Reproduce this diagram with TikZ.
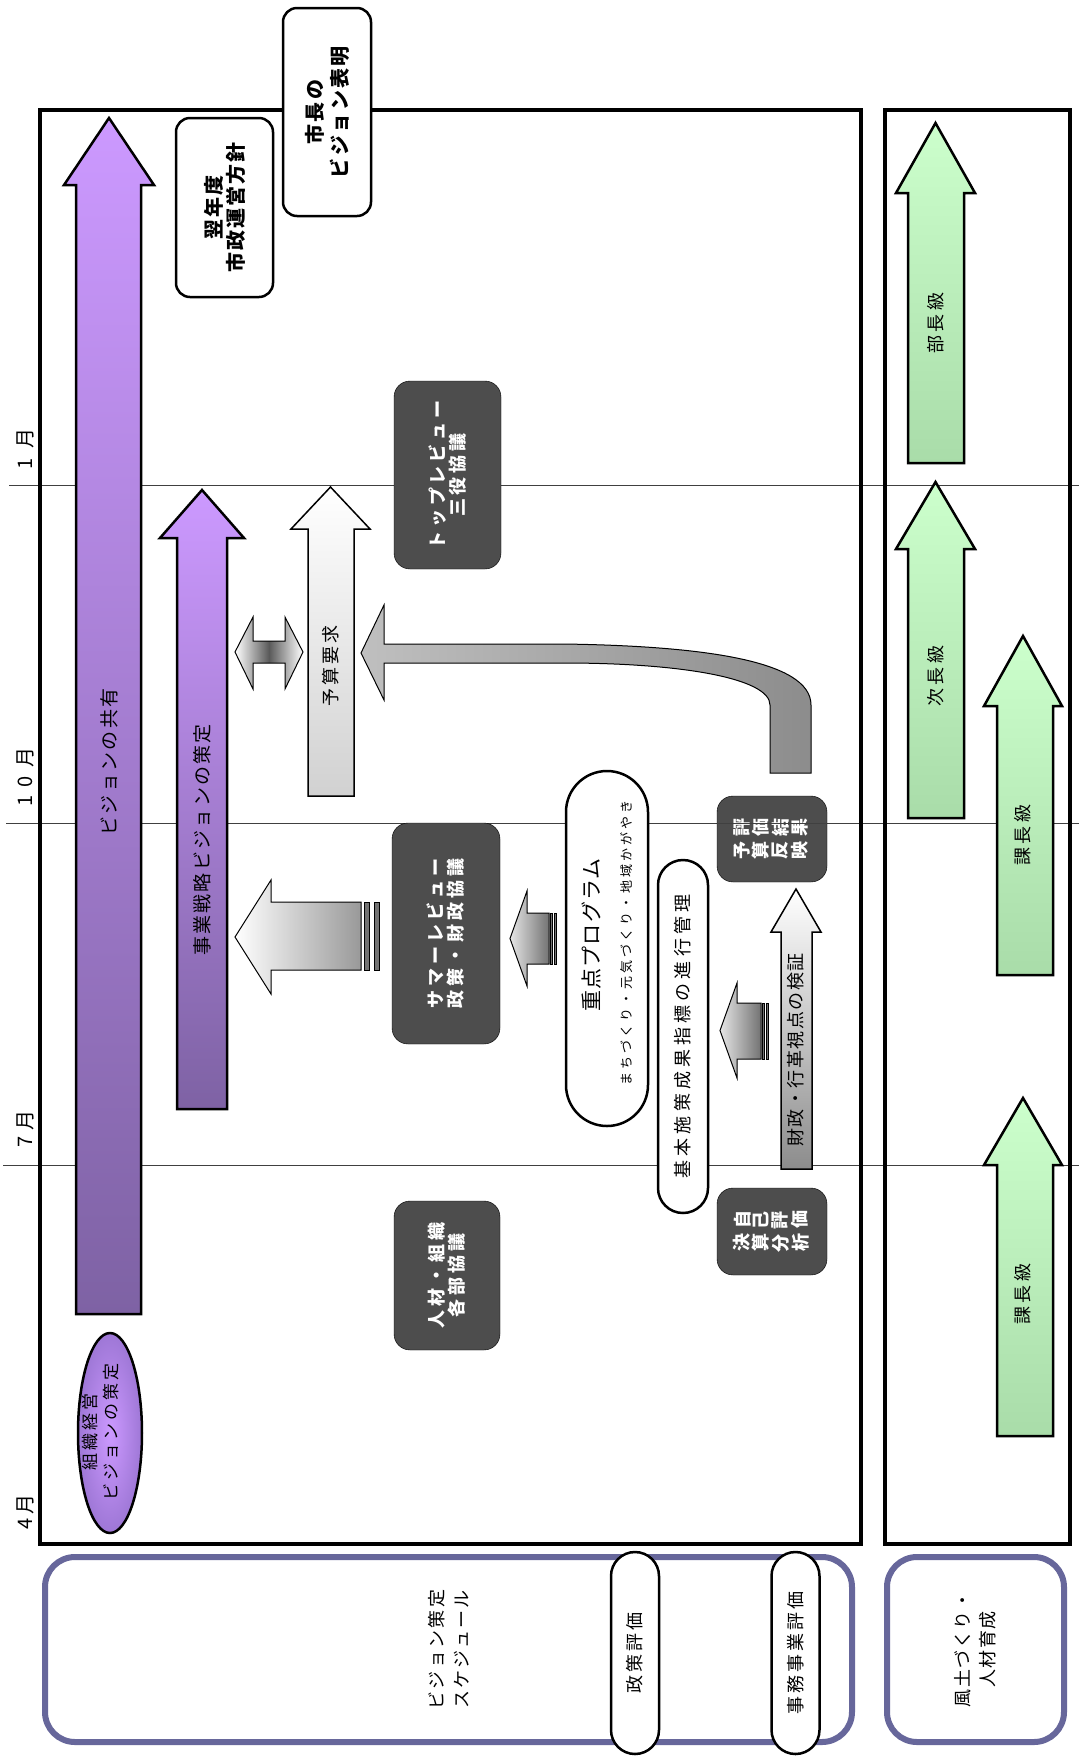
\documentclass[tikz,border=0pt]{standalone}
\usepackage{fontspec}
\setmainfont{Noto Sans CJK JP}
\usepackage{graphicx}
\usetikzlibrary{shapes.geometric, shapes.misc, positioning}

\definecolor{purpleL}{HTML}{CC99FF}
\definecolor{purpleD}{HTML}{7E62A4}
\definecolor{purpleM}{HTML}{9E77D6}
\definecolor{greenL}{HTML}{CCFFCC}
\definecolor{greenD}{HTML}{A9DCA9}
\definecolor{boxdark}{HTML}{4D4D4D}
\definecolor{frameblue}{HTML}{67679B}

\newcommand\jfont[2]{\fontsize{#1}{#2}\selectfont}
\newcommand\rch[1]{\rotatebox[origin=c]{90}{#1}\kern2.5pt}
% block arrow up: style, shaft x1, x2, head x1, x2, tip y, head base y, tail y
\newcommand\blkup[8]{\path[#1] (#2,#8) -- (#2,#7) -- (#4,#7) -- ({(#4+#5)/2},#6) -- (#5,#7) -- (#3,#7) -- (#3,#8) -- cycle;}
% block arrow left: style, tip x, head base x, tail x, head y1, y2, shaft y1, y2
\newcommand\blkleft[8]{\path[#1] (#2,{(#5+#6)/2}) -- (#3,#5) -- (#3,#7) -- (#4,#7) -- (#4,#8) -- (#3,#8) -- (#3,#6) -- cycle;}

\begin{document}
\begin{tikzpicture}[x=1pt, y=-1pt,
    mainframe/.style={draw=black, line width=4.5pt},
    monthline/.style={draw=black!75, line width=1pt},
    jtext/.style={align=center, inner sep=0pt, rotate=90, font=\jfont{19}{22}\addfontfeatures{LetterSpace=12}},
    month/.style={jtext, font=\jfont{20}{22}},
    whitebox/.style={rectangle, rounded corners=14pt, draw=black, line width=2.5pt, fill=white,
                     align=center, inner sep=0pt, rotate=90, font=\bfseries\jfont{20}{22}\addfontfeatures{LetterSpace=10}},
    darkbox/.style={rectangle, rounded corners=16pt, draw=black, fill=boxdark, text=white,
                    align=center, inner sep=0pt, rotate=90, font=\bfseries\jfont{18}{20}\addfontfeatures{LetterSpace=22}},
    darkflat/.style={rectangle, rounded corners=16pt, draw=black, fill=boxdark, text=white,
                     align=center, inner sep=0pt, font=\bfseries\jfont{18}{23}},
    pill/.style={rounded rectangle, draw=black, line width=2.5pt, fill=white, align=center,
                 inner sep=0pt, rotate=90, font=\jfont{18}{20}\addfontfeatures{LetterSpace=17}},
    bottombox/.style={rectangle, rounded corners=30pt, draw=frameblue, line width=6pt, fill=white,
                      align=center, inner sep=0pt, rotate=90, font=\jfont{18}{25}\addfontfeatures{LetterSpace=13}},
    purplearr/.style={draw=black, line width=2.5pt, top color=purpleL, bottom color=purpleD},
    greenarr/.style={draw=black, line width=2.5pt, top color=greenL, bottom color=greenD},
    greyarr/.style={draw=black, line width=1.5pt, top color=white, bottom color=black!18},
    checkarr/.style={draw=black, line width=1.5pt, top color=white, bottom color=black!45},
    bigarr/.style={draw=black, line width=1pt, left color=white, right color=black!40},
    smallarr/.style={draw=black, line width=1pt, left color=black!10, right color=black!55},
    stripe/.style={draw=black, line width=0.8pt, fill=black!55},
    dblarr/.style={draw=black, line width=1pt, left color=white, right color=white, middle color=black!65},
    bendarr/.style={draw=black, line width=1pt, left color=black!25, right color=black!45}
]
\useasboundingbox (0,0) rectangle (1079,1757);

% month lines and labels
\draw[monthline] (9,485) -- (1079,485);
\draw[monthline] (6,823) -- (1079,823);
\draw[monthline] (3,1165) -- (1079,1165);
\node[month] (m1) at (25,449) {1\hspace{9pt}月};
\node[month] (m10) at (25,777) {1\hspace{8pt}0\hspace{8pt}月};
\node[month] (m7) at (25,1129) {7\hspace{6pt}月};
\node[month] (m4) at (25,1512) {4\hspace{3pt}月};

% frames
\draw[mainframe] (40,110) rectangle (861,1544);
\draw[mainframe] (885,110) rectangle (1070,1544);

% top boxes
\node[whitebox, minimum width=179, minimum height=97] (policy) at (224.5,207.5) {翌年度\\市政運営方針};
\node[whitebox, minimum width=208, minimum height=88, font=\bfseries\jfont{20}{25}\addfontfeatures{LetterSpace=12}] (mayor) at (327,112) {市長の\\ビジョン表明};

% vision arrows
\blkup{purplearr}{76}{141}{64}{154}{118}{185}{1314}
\node[jtext] (share) at (109,762) {ビジョンの共有};
\node[ellipse, draw=black, line width=2.5pt, inner color=purpleL, outer color=purpleM,
      minimum width=200, minimum height=64, rotate=90] (orgvis) at (110,1433) {};
\node[jtext, font=\jfont{17}{21}\addfontfeatures{LetterSpace=18}] (orgtxt) at (101,1432) {組織経営\\ビジョンの策定};
\blkup{purplearr}{177}{227}{160}{244}{490}{538}{1109}
\node[jtext] (bizvis) at (202,840) {事業戦略ビジョンの策定};

% budget request
\blkup{greyarr}{308}{354}{291}{370}{487}{529}{796}
\node[jtext, font=\jfont{18}{20}\addfontfeatures{LetterSpace=17}] (budget) at (331,666) {予算要求};
\path[dblarr] (235,652) -- (253,617) -- (253,641) -- (285,641) -- (285,617) -- (303,652)
    -- (285,689) -- (285,663) -- (253,663) -- (253,689) -- cycle;
\path[bendarr] (361,653) -- (384,605) -- (384,644) -- (564,644)
    .. controls (700,646) and (811,660) .. (811,705) -- (811,773) -- (770,773) -- (770,705)
    .. controls (770,678) and (680,663) .. (564,663) -- (384,663) -- (384,700) -- cycle;

% review boxes
\node[darkbox, minimum width=188, minimum height=107] (toprev) at (447.5,475) {トップレビュー\\三役協議};
\node[darkbox, minimum width=221, minimum height=108] (summer) at (446,933.5) {サマーレビュー\\政策・財政協議};
\node[darkbox, minimum width=149, minimum height=106] (staff) at (447,1275.5) {人材・組織\\各部協議};

% arrows into summer review
\blkleft{bigarr}{235}{271}{361}{880}{994}{902}{970}
\path[stripe] (364,902) rectangle (369,970);
\path[stripe] (374,902) rectangle (379,970);
\blkleft{smallarr}{510}{527}{549}{891}{986}{913}{964}
\path[stripe] (550,913) rectangle (552,964);
\path[stripe] (554,913) rectangle (556,964);

% programmes and indicators
\node[pill, minimum width=355, minimum height=82] (focus) at (607,948.5) {};
\node[jtext, font=\jfont{21}{23}\addfontfeatures{LetterSpace=6}] (focustxt) at (592,935) {重点プログラム};
\node[jtext, font=\jfont{13}{15}\addfontfeatures{LetterSpace=23}] (focussub) at (627,943) {まちづくり・元気づくり・地域かがやき};
\node[pill, minimum width=353, minimum height=50, font=\jfont{18}{20}\addfontfeatures{LetterSpace=23}] (basic) at (683,1036.5) {基本施策成果指標の進行管理};
\blkleft{smallarr}{720}{737}{761}{983}{1078}{1003}{1059}
\path[stripe] (762,1003) rectangle (764,1059);
\path[stripe] (766,1003) rectangle (768,1059);

% evaluation boxes and check arrow
\blkup{checkarr}{781}{812}{771}{821}{889}{932}{1169}
\node[jtext, font=\jfont{18}{20}\addfontfeatures{LetterSpace=8}] (check) at (796,1050) {財政・行革視点の検証};
\node[darkflat, minimum width=110, minimum height=86] (evalres) at (772,839)
    {\rch{評}\rch{価}\rch{結}\rch{果}\\\rch{予}\rch{算}\rch{反}\rch{映}};
\node[darkflat, minimum width=110, minimum height=87] (selfeval) at (772,1231.5)
    {\rch{自}\rch{己}\rch{評}\rch{価}\\\rch{決}\rch{算}\rch{分}\rch{析}};
\draw[monthline] (717,823) -- (827,823);

% staff levels
\blkup{greenarr}{908}{964}{896}{975}{123}{193}{463}
\node[jtext, font=\jfont{18}{20}\addfontfeatures{LetterSpace=17}] (lvl1) at (936,323) {部長級};
\blkup{greenarr}{908}{964}{896}{975}{482}{549}{818}
\node[jtext, font=\jfont{18}{20}\addfontfeatures{LetterSpace=17}] (lvl2) at (936,676) {次長級};
\blkup{greenarr}{997}{1053}{984}{1062}{636}{706}{975}
\node[jtext, font=\jfont{18}{20}\addfontfeatures{LetterSpace=17}] (lvl3) at (1023,835) {課長級};
\blkup{greenarr}{997}{1053}{984}{1062}{1098}{1165}{1436}
\node[jtext, font=\jfont{18}{20}\addfontfeatures{LetterSpace=17}] (lvl4) at (1023,1294) {課長級};

% bottom headings
\node[bottombox, minimum width=185, minimum height=807] (sched) at (448.5,1649.5) {ビジョン策定\\スケジュール};
\node[pill, minimum width=202, minimum height=48] (poleval) at (635,1653) {政策評価};
\node[pill, minimum width=202, minimum height=48] (opseval) at (795.5,1653) {事務事業評価};
\node[bottombox, minimum width=185, minimum height=177, font=\jfont{18}{25}\addfontfeatures{LetterSpace=8}] (culture) at (975.5,1649.5) {風土づくり・\\人材育成};
\end{tikzpicture}
\end{document}
